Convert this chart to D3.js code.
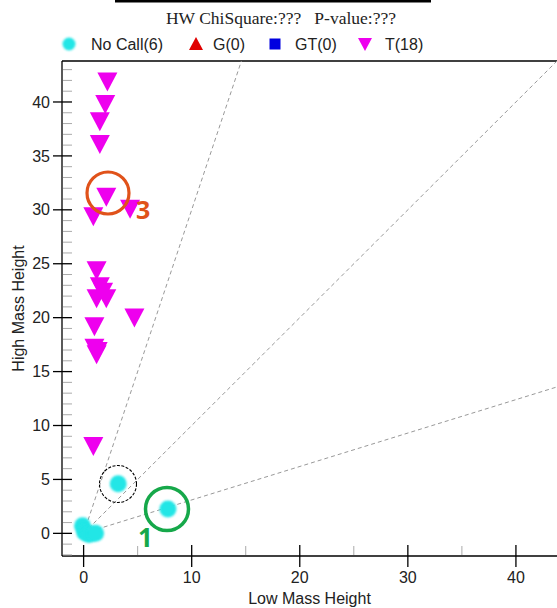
<!DOCTYPE html>
<html><head><meta charset="utf-8">
<script src="https://cdn.jsdelivr.net/npm/d3@7"></script>
<style>
html,body{margin:0;padding:0;background:#fff;}
svg{display:block;}
text{font-family:"Liberation Sans",Arial,sans-serif;}
</style></head>
<body>
<script>
// ---- data ----
const legendLabels = ["No Call(6)", "G(0)", "GT(0)", "T(18)"];
const noCallX = [-0.1, 0.1, 0.5, 1.1, 3.2, 7.8];
const noCallY = [0.7, 0.1, -0.1, 0.0, 4.6, 2.25];
const tX = [2.2, 2.0, 1.5, 1.5, 2.1, 0.9, 4.3, 1.2, 1.5, 1.8, 1.2, 2.1, 4.7, 1.0, 1.0, 1.3, 1.2, 0.9];
const tY = [42.0, 39.9, 38.3, 36.2, 31.3, 29.5, 30.2, 24.5, 23.0, 22.5, 21.9, 21.9, 20.1, 19.3, 17.3, 17.0, 16.7, 8.2];
const xTicks = [0, 10, 20, 30, 40];
const yTicks = [0, 5, 10, 15, 20, 25, 30, 35, 40];
const refSlopes = [3, 1, 0.31];
const titleText = "HW ChiSquare:???   P-value:???";
const xTitle = "Low Mass Height", yTitle = "High Mass Height";

const W = 557, H = 608;
const L = 62, R = 557, T = 61, B = 556;
const x = d3.scaleLinear().domain([-2, 43.8]).range([L, R]);
const y = d3.scaleLinear().domain([-2.1, 43.8]).range([B, T]);

const svg = d3.select("body").append("svg").attr("width", W).attr("height", H);
const defs = svg.append("defs");
defs.append("clipPath").attr("id", "clip").append("rect")
  .attr("x", L).attr("y", T).attr("width", R - L).attr("height", B - T);
const f = defs.append("filter").attr("id", "soft").attr("x", "-50%").attr("y", "-50%").attr("width", "200%").attr("height", "200%");
f.append("feGaussianBlur").attr("stdDeviation", 0.9);

// top bar
svg.append("rect").attr("x", 115).attr("y", 0).attr("width", 316).attr("height", 2.5).attr("fill", "#000");

// title
svg.append("text").attr("x", 281).attr("y", 24).attr("text-anchor", "middle")
  .style("font-family", "'Liberation Serif','DejaVu Serif',serif")
  .attr("font-size", 17.5).attr("fill", "#222").style("white-space", "pre").text(titleText);

// legend
const leg = svg.append("g");
const legX = [69, 196, 275, 365], legTX = [91, 213, 295, 385], legY = 44;
leg.append("circle").attr("cx", legX[0]).attr("cy", legY).attr("r", 6.5).attr("fill", "#22e6e6").attr("filter", "url(#soft)");
leg.append("path").attr("transform", `translate(${legX[1]},${legY})`).attr("d", "M0,-7L7,6L-7,6Z").attr("fill", "#e00000");
leg.append("rect").attr("x", legX[2] - 5.5).attr("y", legY - 5.5).attr("width", 11).attr("height", 11).attr("fill", "#0000e0");
leg.append("path").attr("transform", `translate(${legX[3]},${legY})`).attr("d", "M-7,-6L7,-6L0,7Z").attr("fill", "#ee00ee");
legendLabels.forEach((t, i) => leg.append("text").attr("x", legTX[i]).attr("y", legY + 6)
  .attr("font-size", 16).attr("fill", "#222").text(t));

// plot border top
svg.append("line").attr("x1", L).attr("x2", R).attr("y1", T).attr("y2", T).attr("stroke", "#000").attr("stroke-width", 1.3);

// reference dashed lines
const plot = svg.append("g").attr("clip-path", "url(#clip)");
refSlopes.forEach(s => {
  const xe = Math.min(43.8, 43.8 / s);
  plot.append("line").attr("x1", x(0)).attr("y1", y(0)).attr("x2", x(xe)).attr("y2", y(xe * s))
    .attr("stroke", "#999").attr("stroke-width", 1).attr("stroke-dasharray", "4,3");
});

// axes
const ax = svg.append("g");
ax.append("line").attr("x1", L).attr("x2", R).attr("y1", B).attr("y2", B).attr("stroke", "#000").attr("stroke-width", 1.3);
ax.append("line").attr("x1", L).attr("x2", L).attr("y1", T).attr("y2", B).attr("stroke", "#000").attr("stroke-width", 1.3);
// minor ticks
const yMinor = d3.range(-2, 44).filter(v => v % 5 !== 0);
yMinor.forEach(v => ax.append("line").attr("x1", L + 1).attr("x2", L + 10).attr("y1", y(v)).attr("y2", y(v)).attr("stroke", "#aaa"));
const xMinor = [5, 15, 25, 35];
xMinor.forEach(v => ax.append("line").attr("x1", x(v)).attr("x2", x(v)).attr("y1", B - 1).attr("y2", B - 10).attr("stroke", "#aaa"));
// major ticks
yTicks.forEach(v => {
  ax.append("line").attr("x1", L - 9).attr("x2", L + 10).attr("y1", y(v)).attr("y2", y(v)).attr("stroke", "#000").attr("stroke-width", 1.3);
  ax.append("text").attr("x", L - 12).attr("y", y(v)).attr("dy", "0.35em").attr("text-anchor", "end")
    .attr("font-size", 16).attr("fill", "#222").text(v);
});
xTicks.forEach(v => {
  ax.append("line").attr("x1", x(v)).attr("x2", x(v)).attr("y1", B - 11).attr("y2", B + 11).attr("stroke", "#000").attr("stroke-width", 1.3);
  ax.append("text").attr("x", x(v)).attr("y", 583).attr("text-anchor", "middle")
    .attr("font-size", 16).attr("fill", "#222").text(v);
});
svg.append("text").attr("x", (L + R) / 2).attr("y", 604).attr("text-anchor", "middle").attr("font-size", 16).attr("fill", "#222").text(xTitle);
svg.append("text").attr("transform", `translate(24,${(T + B) / 2}) rotate(-90)`).attr("text-anchor", "middle")
  .attr("font-size", 16).attr("fill", "#222").text(yTitle);

// points
noCallX.forEach((v, i) => plot.append("circle").attr("cx", x(v)).attr("cy", y(noCallY[i])).attr("r", 8.5)
  .attr("fill", "#22e6e6").attr("filter", "url(#soft)"));
tX.forEach((v, i) => plot.append("path").attr("transform", `translate(${x(v)},${y(tY[i])})`)
  .attr("d", "M-10,-8L10,-8L0,11Z").attr("fill", "#ee00ee"));

// annotations
const ann = svg.append("g");
ann.append("circle").attr("cx", 108).attr("cy", 193).attr("r", 21).attr("fill", "none").attr("stroke", "#e0521a").attr("stroke-width", 3.2);
ann.append("text").attr("x", 136).attr("y", 219).style("font-family", "'Open Sans',sans-serif").attr("font-size", 25).attr("font-weight", "bold").attr("fill", "#e0521a").text("3");
ann.append("circle").attr("cx", 167).attr("cy", 509).attr("r", 21.5).attr("fill", "none").attr("stroke", "#16a84a").attr("stroke-width", 3.5);
ann.append("text").attr("x", 138).attr("y", 547).style("font-family", "'Open Sans',sans-serif").attr("font-size", 26).attr("font-weight", "bold").attr("fill", "#16a84a").text("1");
ann.append("circle").attr("cx", 118).attr("cy", 484).attr("r", 18.5).attr("fill", "none").attr("stroke", "#000").attr("stroke-width", 1.1).attr("stroke-dasharray", "3,1.5");
</script>
</body></html>
